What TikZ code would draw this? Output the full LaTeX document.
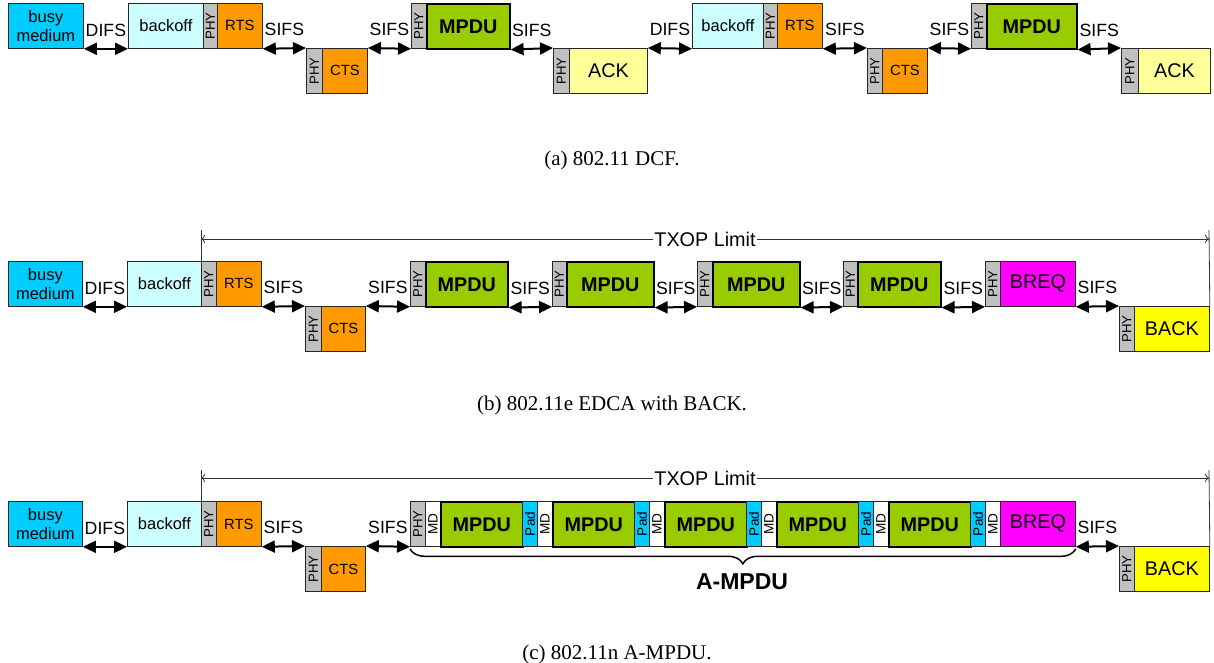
\documentclass[tikz,border=0pt]{standalone}
\usepackage{fontspec}
\setmainfont{Liberation Sans}
\newfontfamily\capfont{Liberation Serif}
\usepackage{graphicx}
\usetikzlibrary{arrows.meta,decorations.pathreplacing}
\definecolor{cBusy}{HTML}{00CCFF}
\definecolor{cBoff}{HTML}{CCFFFF}
\definecolor{cPhy}{HTML}{C0C0C0}
\definecolor{cRts}{HTML}{FF9900}
\definecolor{cMpdu}{HTML}{99CC00}
\definecolor{cAck}{HTML}{FFFF99}
\definecolor{cBreq}{HTML}{FF00FF}
\definecolor{cBk}{HTML}{FFFF00}
\definecolor{cPad}{HTML}{00CCFF}
\newcommand\fzBusy{\fontsize{16.5pt}{19.5pt}\selectfont}
\newcommand\fzCts{\fontsize{14.8pt}{17pt}\selectfont}
\newcommand\fzBig{\fontsize{19.8pt}{22pt}\selectfont}
\newcommand\fzPhy{\fontsize{13.2pt}{14pt}\selectfont}
\newcommand\fzPad{\fontsize{13.6pt}{15pt}\selectfont}
\newcommand\fzGap{\fontsize{17.7pt}{20pt}\selectfont}
\newcommand\fzAm{\fontsize{23pt}{26pt}\selectfont\bfseries}
\newcommand\fzCap{\capfont\fontsize{21pt}{24pt}\selectfont}
\newcommand\phytxt{\rotatebox{90}{PHY}}
\newcommand\padtxt{\rotatebox{90}{Pad}}
\newcommand\mdtxt{\rotatebox{90}{MD}}
\newcommand\tbox[6]{\node[blk,#1,minimum width={#4-#3}] (#2) at (#3,#5) {#6};}
\begin{document}
\begin{tikzpicture}[x=1pt,y=-1pt,
  blk/.style={draw=black!85, line width=0.8pt, inner sep=0pt, anchor=north west, minimum height=45pt, text=black, align=center},
  busy/.style={fill=cBusy, font=\fzBusy},
  bo/.style={fill=cBoff, font=\fzBusy},
  phy/.style={fill=cPhy, font=\fzPhy},
  rts/.style={fill=cRts, font=\fzCts},
  mpdu/.style={fill=cMpdu, font=\fzBig\bfseries, line width=1.6pt, draw=black},
  ack/.style={fill=cAck, font=\fzBig},
  breq/.style={fill=cBreq, font=\fzBig},
  bk/.style={fill=cBk, font=\fzBig},
  padbox/.style={fill=cPad, font=\fzPad},
  mdbox/.style={fill=white, font=\fzPad},
  gaparr/.style={line width=2pt, arrows={Triangle[length=13pt,width=12pt]-Triangle[length=13pt,width=12pt]}},
  lbl/.style={anchor=base, yshift=12.5pt, font=\fzGap, inner sep=0pt},
  txop/.style={line width=0.8pt, draw=black!80, arrows={To[length=4pt,width=8pt]-To[length=4pt,width=8pt]}},
  vline/.style={line width=0.8pt, draw=black!80},
  txlbl/.style={fill=white, inner sep=1pt, font=\fzBig},
  brc/.style={line width=1.5pt, decorate, decoration={brace, mirror, amplitude=15pt}},
  captxt/.style={anchor=base, font=\fzCap, inner sep=0pt}
]
\useasboundingbox (0,0) rectangle (1214,663);
\fill[white] (0,0) rectangle (1214,663);

% ---------- row (a) ----------
\tbox{busy}{a1}{8}{83}{3}{busy\\medium}
\tbox{bo}{a2}{128}{203}{3}{backoff}
\tbox{phy}{a3}{203}{217}{3}{\phytxt}
\tbox{rts}{a4}{217}{262}{3}{RTS}
\tbox{phy}{a5}{306}{322}{48}{\phytxt}
\tbox{rts}{a6}{322}{367}{48}{CTS}
\tbox{phy}{a7}{411}{426}{3}{\phytxt}
\tbox{mpdu}{a8}{426}{509}{3}{MPDU}
\tbox{phy}{a9}{553}{569}{48}{\phytxt}
\tbox{ack}{a10}{569}{647}{48}{ACK}
\tbox{bo}{a11}{692}{763}{3}{backoff}
\tbox{phy}{a12}{763}{777}{3}{\phytxt}
\tbox{rts}{a13}{777}{822}{3}{RTS}
\tbox{phy}{a14}{867}{882}{48}{\phytxt}
\tbox{rts}{a15}{882}{927}{48}{CTS}
\tbox{phy}{a16}{971}{986}{3}{\phytxt}
\tbox{mpdu}{a17}{986}{1076}{3}{MPDU}
\tbox{phy}{a18}{1121}{1138}{48}{\phytxt}
\tbox{ack}{a19}{1138}{1210}{48}{ACK}

\draw[gaparr] (a1.south east) -- node[lbl]{DIFS} (a2.south west);
\draw[gaparr] (a4.south east) -- node[lbl]{SIFS} (a5.north west);
\draw[gaparr] (a6.north east) -- node[lbl]{SIFS} (a7.south west);
\draw[gaparr] (a8.south east) -- node[lbl]{SIFS} (a9.north west);
\draw[gaparr] (a10.north east) -- node[lbl]{DIFS} (a11.south west);
\draw[gaparr] (a13.south east) -- node[lbl]{SIFS} (a14.north west);
\draw[gaparr] (a15.north east) -- node[lbl]{SIFS} (a16.south west);
\draw[gaparr] (a17.south east) -- node[lbl]{SIFS} (a18.north west);

\node[captxt] (capa) at (612,165) {(a) 802.11 DCF.};

% ---------- row (b) ----------
\tbox{busy}{b1}{8}{82}{261}{busy\\medium}
\tbox{bo}{b2}{127}{201}{261}{backoff}
\tbox{phy}{b3}{201}{216}{261}{\phytxt}
\tbox{rts}{b4}{216}{261}{261}{RTS}
\tbox{phy}{b5}{305}{321}{306}{\phytxt}
\tbox{rts}{b6}{321}{365}{306}{CTS}
\tbox{phy}{b7}{410}{425}{261}{\phytxt}
\tbox{mpdu}{b8}{425}{507}{261}{MPDU}
\tbox{phy}{b9}{552}{566}{261}{\phytxt}
\tbox{mpdu}{b10}{566}{653}{261}{MPDU}
\tbox{phy}{b11}{697}{712}{261}{\phytxt}
\tbox{mpdu}{b12}{712}{799}{261}{MPDU}
\tbox{phy}{b13}{843}{857}{261}{\phytxt}
\tbox{mpdu}{b14}{857}{940}{261}{MPDU}
\tbox{phy}{b15}{985}{1000}{261}{\phytxt}
\tbox{breq}{b16}{1000}{1075}{261}{BREQ}
\tbox{phy}{b17}{1119}{1134}{306}{\phytxt}
\tbox{bk}{b18}{1134}{1209}{306}{BACK}

\draw[gaparr] (b1.south east) -- node[lbl]{DIFS} (b2.south west);
\draw[gaparr] (b4.south east) -- node[lbl]{SIFS} (b5.north west);
\draw[gaparr] (b6.north east) -- node[lbl]{SIFS} (b7.south west);
\draw[gaparr] (b8.south east) -- node[lbl]{SIFS} (b9.south west);
\draw[gaparr] (b10.south east) -- node[lbl]{SIFS} (b11.south west);
\draw[gaparr] (b12.south east) -- node[lbl]{SIFS} (b13.south west);
\draw[gaparr] (b14.south east) -- node[lbl]{SIFS} (b15.south west);
\draw[gaparr] (b16.south east) -- node[lbl]{SIFS} (b17.north west);

\coordinate (btl) at (201,239);
\coordinate (btr) at (1209,239);
\coordinate (btlt) at (201,230);
\coordinate (btrt) at (1209,230);
\draw[vline] (btlt) -- (b3.north west);
\draw[vline] (btrt) -- (b18.north east);
\draw[txop] (btl) -- node[txlbl]{TXOP Limit} (btr);

\node[captxt] (capb) at (612,410) {(b) 802.11e EDCA with BACK.};

% ---------- row (c) ----------
\tbox{busy}{c1}{8}{82}{501}{busy\\medium}
\tbox{bo}{c2}{127}{201}{501}{backoff}
\tbox{phy}{c3}{201}{216}{501}{\phytxt}
\tbox{rts}{c4}{216}{261}{501}{RTS}
\tbox{phy}{c5}{305}{321}{546}{\phytxt}
\tbox{rts}{c6}{321}{365}{546}{CTS}
\tbox{phy}{c7}{410}{425}{501}{\phytxt}
\tbox{mdbox}{c8}{425}{440}{501}{\mdtxt}
\tbox{mpdu}{c9}{440}{522}{501}{MPDU}
\tbox{padbox}{c10}{522}{537}{501}{\padtxt}
\tbox{mdbox}{c11}{537}{552}{501}{\mdtxt}
\tbox{mpdu}{c12}{552}{634}{501}{MPDU}
\tbox{padbox}{c13}{634}{649}{501}{\padtxt}
\tbox{mdbox}{c14}{649}{664}{501}{\mdtxt}
\tbox{mpdu}{c15}{664}{746}{501}{MPDU}
\tbox{padbox}{c16}{746}{761}{501}{\padtxt}
\tbox{mdbox}{c17}{761}{776}{501}{\mdtxt}
\tbox{mpdu}{c18}{776}{858}{501}{MPDU}
\tbox{padbox}{c19}{858}{873}{501}{\padtxt}
\tbox{mdbox}{c20}{873}{888}{501}{\mdtxt}
\tbox{mpdu}{c21}{888}{970}{501}{MPDU}
\tbox{padbox}{c22}{970}{985}{501}{\padtxt}
\tbox{mdbox}{c23}{985}{1000}{501}{\mdtxt}
\tbox{breq}{c24}{1000}{1075}{501}{BREQ}
\tbox{phy}{c25}{1119}{1134}{546}{\phytxt}
\tbox{bk}{c26}{1134}{1209}{546}{BACK}

\draw[gaparr] (c1.south east) -- node[lbl]{DIFS} (c2.south west);
\draw[gaparr] (c4.south east) -- node[lbl]{SIFS} (c5.north west);
\draw[gaparr] (c6.north east) -- node[lbl]{SIFS} (c7.south west);
\draw[gaparr] (c24.south east) -- node[lbl]{SIFS} (c25.north west);

\coordinate (ctl) at (201,478);
\coordinate (ctr) at (1209,478);
\coordinate (ctlt) at (201,470);
\coordinate (ctrt) at (1209,470);
\draw[vline] (ctlt) -- (c3.north west);
\draw[vline] (ctrt) -- (c26.north east);
\draw[txop] (ctl) -- node[txlbl]{TXOP Limit} (ctr);

\draw[brc] ([yshift=-2pt]c7.south west) -- ([yshift=-2pt]c24.south east);
\node[anchor=base, font=\fzAm, inner sep=0pt] (ampdu) at (742,589) {A-MPDU};

\node[captxt] (capc) at (617,659) {(c) 802.11n A-MPDU.};
\end{tikzpicture}
\end{document}
